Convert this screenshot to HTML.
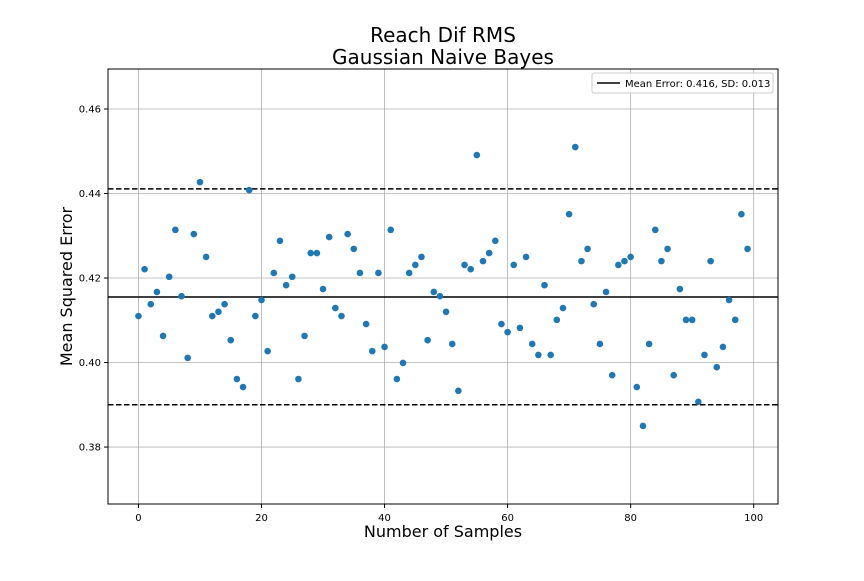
<!DOCTYPE html>
<html><head><meta charset="utf-8"><style>
body{margin:0;background:#fff;}
svg text{font-family:"DejaVu Sans","Liberation Sans",sans-serif;}
</style></head><body>
<svg id="chart" width="864" height="576" viewBox="0 0 864 576" xmlns="http://www.w3.org/2000/svg">
<rect width="864" height="576" fill="#fff"/>
<text x="443" y="42" font-size="20" text-anchor="middle">Reach Dif RMS</text>
<text x="443" y="64" font-size="20" text-anchor="middle">Gaussian Naive Bayes</text>
<g id="grid"></g>
<g id="ticks"></g>
<g id="lines"></g>
<g id="points"></g>
<rect x="108" y="69" width="670" height="435" fill="none" stroke="#000" stroke-width="1"/>
<text x="443" y="537" font-size="16" text-anchor="middle">Number of Samples</text>
<text transform="translate(72,286.5) rotate(-90)" font-size="16" text-anchor="middle">Mean Squared Error</text>
<g>
<rect x="592" y="73" width="181" height="20" rx="2" fill="#fff" fill-opacity="0.8" stroke="#ccc"/>
<line x1="597" y1="83" x2="620" y2="83" stroke="#000" stroke-width="1.5"/>
<text x="625" y="87" font-size="10">Mean Error: 0.416, SD: 0.013</text>
</g>
</svg>
<script>
const errors=[0.411,0.4221,0.4138,0.4167,0.4063,0.4203,0.4314,0.4157,0.4011,0.4304,
0.4427,0.425,0.411,0.412,0.4138,0.4053,0.3961,0.3942,0.4408,0.411,
0.4148,0.4027,0.4212,0.4288,0.4183,0.4203,0.3961,0.4063,0.4259,0.4259,
0.4174,0.4297,0.4129,0.411,0.4304,0.4269,0.4212,0.4091,0.4027,0.4212,
0.4037,0.4314,0.3961,0.3999,0.4212,0.4231,0.425,0.4053,0.4167,0.4157,
0.412,0.4044,0.3933,0.4231,0.4221,0.4491,0.424,0.4259,0.4288,0.4091,
0.4072,0.4231,0.4082,0.425,0.4044,0.4018,0.4183,0.4018,0.4101,0.4129,
0.4351,0.451,0.424,0.4269,0.4138,0.4044,0.4167,0.397,0.4231,0.424,
0.425,0.3942,0.385,0.4044,0.4314,0.424,0.4269,0.397,0.4174,0.4101,
0.4101,0.3907,0.4018,0.424,0.3989,0.4037,0.4148,0.4101,0.4351,0.4269];
const meanError=0.4155;
const sdBands=[0.4411,0.3900];
const xTicks=[0,20,40,60,80,100];
const yTicks=[0.38,0.40,0.42,0.44,0.46];
const NS="http://www.w3.org/2000/svg";
const L=108,R=778,T=69,B=504;
const xMin=-4.95,xMax=103.95,yMin=0.36652,yMax=0.46947;
function sx(v){return L+(v-xMin)/(xMax-xMin)*(R-L);}
function sy(v){return B-(v-yMin)/(yMax-yMin)*(B-T);}
function mk(tag,attrs,parent){const e=document.createElementNS(NS,tag);for(const k in attrs)e.setAttribute(k,attrs[k]);parent.appendChild(e);return e;}
const grid=document.getElementById('grid'),ticks=document.getElementById('ticks');
xTicks.forEach(t=>{const x=sx(t);
const g=mk('line',{x1:x,x2:x,y1:T,y2:B,stroke:'#b0b0b0','stroke-width':0.8},grid);


mk('line',{x1:x,x2:x,y1:B,y2:B+4,stroke:'#000'},ticks);
const tx=mk('text',{x:x,y:B+17,'font-size':10,'text-anchor':'middle'},ticks);


tx.textContent=t;});
yTicks.forEach(t=>{const y=sy(t);
const g=mk('line',{x1:L,x2:R,y1:y,y2:y,stroke:'#b0b0b0','stroke-width':0.8},grid);


mk('line',{x1:L-4,x2:L,y1:y,y2:y,stroke:'#000'},ticks);
const tx=mk('text',{x:L-7,y:y+3.5,'font-size':10,'text-anchor':'end'},ticks);


tx.textContent=t.toFixed(2);});
const lines=document.getElementById('lines');
const ml=mk('line',{x1:L,x2:R,y1:sy(meanError),y2:sy(meanError),stroke:'#000','stroke-width':1.5},lines);


sdBands.forEach(v=>{const d=mk('line',{x1:L,x2:R,y1:sy(v),y2:sy(v),stroke:'#000','stroke-width':1.5,'stroke-dasharray':'5.5,2.5'},lines);

});
const pts=document.getElementById('points');
errors.forEach((v,i)=>{const c=mk('circle',{cx:sx(i),cy:sy(v),r:3.3,fill:'#1f77b4'},pts);

});
</script>
</body></html>
